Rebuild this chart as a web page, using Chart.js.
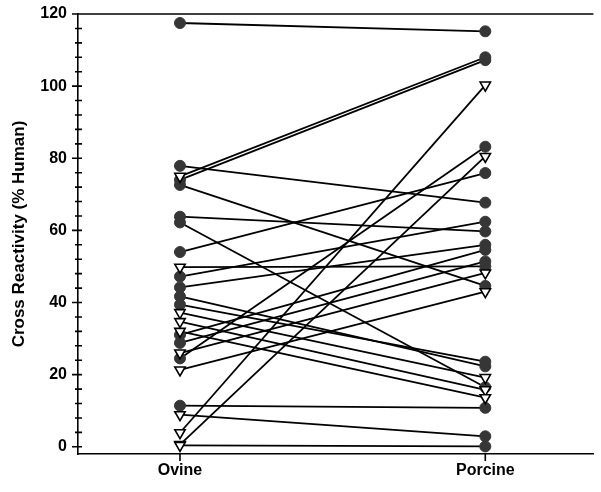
<!DOCTYPE html>
<html>
<head>
<meta charset="utf-8">
<script src="https://cdn.jsdelivr.net/npm/chart.js@4.4.1/dist/chart.umd.min.js"></script>
<style>
  html, body { margin: 0; padding: 0; background: #fff; }
</style>
</head>
<body>
<canvas id="chart" width="601" height="492"></canvas>
<script>
// paired values, one entry per sample
const categories = ['Ovine', 'Porcine'];
const ovine = [117.5, 77.9, 75.0, 74.0, 72.6, 63.8, 62.2, 54.0, 49.8, 47.2, 44.2, 41.7, 39.4,
    37.2, 34.7, 32.0, 31.0, 28.8, 26.0, 24.5, 21.3, 11.4, 8.9, 3.9, 0.6, 0.4];
const porcine = [115.2, 67.7, 108.0, 107.2, 44.6, 59.7, 16.5, 75.9, 50.0, 62.4, 56.0, 22.3, 23.6,
    19.2, 15.8, 13.6, 54.6, 51.4, 48.2, 83.2, 43.0, 10.8, 2.9, 100.3, 80.5, 0.1];
// c = filled circle, t = open triangle
const ovineMarker = ['c', 'c', 't', 'c', 'c', 'c', 'c', 'c', 't', 'c', 'c', 'c', 'c',
    't', 't', 't', 'c', 'c', 't', 'c', 't', 'c', 't', 't', 't', 't'];
const porcineMarker = ['c', 'c', 'c', 'c', 'c', 'c', 'c', 'c', 'c', 'c', 'c', 'c', 'c',
    't', 't', 't', 'c', 'c', 't', 'c', 't', 'c', 'c', 't', 't', 'c'];
const yTicks = [0, 20, 40, 60, 80, 100, 120];
const minorStep = 4;

const FONT = '"Liberation Sans", Arial, sans-serif';

const lineSets = ovine.map((v, i) => ({
    type: 'line',
    data: [{ x: 1, y: v }, { x: 2, y: porcine[i] }],
    borderColor: '#000',
    borderWidth: 1.8,
    pointRadius: 0,
    order: 2,
}));

const markerPoints = (kind) => {
    const pts = [];
    ovine.forEach((v, i) => { if (ovineMarker[i] === kind) pts.push({ x: 1, y: v }); });
    porcine.forEach((v, i) => { if (porcineMarker[i] === kind) pts.push({ x: 2, y: v }); });
    return pts;
};

const axisMarks = {
    id: 'axisMarks',
    beforeDatasetsDraw(chart) {
        const { ctx, chartArea, scales: { x, y } } = chart;
        ctx.save();
        ctx.strokeStyle = '#000';
        ctx.lineWidth = 1.6;
        ctx.beginPath();
        const top = y.getPixelForValue(yTicks[yTicks.length - 1]);
        ctx.moveTo(chartArea.left, top);
        ctx.lineTo(chartArea.right, top);
        for (let v = 0; v <= 120; v += minorStep) {
            const py = y.getPixelForValue(v);
            const major = yTicks.includes(v);
            ctx.moveTo(chartArea.left - (major ? 6 : 3), py);
            ctx.lineTo(chartArea.left + 4, py);
        }
        categories.forEach((c, i) => {
            const px = x.getPixelForValue(i + 1);
            ctx.moveTo(px, chartArea.bottom);
            ctx.lineTo(px, chartArea.bottom + 7);
        });
        ctx.stroke();
        ctx.restore();
    }
};

new Chart(document.getElementById('chart'), {
    type: 'scatter',
    data: {
        datasets: [
            {
                data: markerPoints('t'),
                pointStyle: 'triangle',
                rotation: 180,
                pointRadius: 6,
                backgroundColor: '#fff',
                borderColor: '#000',
                borderWidth: 1.6,
                order: 0,
            },
            {
                data: markerPoints('c'),
                pointStyle: 'circle',
                pointRadius: 5.5,
                backgroundColor: '#363636',
                borderColor: '#363636',
                borderWidth: 1,
                order: 1,
            },
            ...lineSets,
        ],
    },
    options: {
        responsive: false,
        animation: false,
        layout: { padding: { top: 14, right: 3, left: 0, bottom: 0 } },
        plugins: {
            legend: { display: false },
            tooltip: { enabled: false },
        },
        scales: {
            x: {
                type: 'linear',
                min: 0.666,
                max: 2.354,
                afterBuildTicks: (scale) => { scale.ticks = categories.map((c, i) => ({ value: i + 1 })); },
                afterFit: (scale) => { scale.height = 38; scale.paddingLeft = 0; scale.paddingRight = 0; },
                grid: { display: true, drawOnChartArea: false, drawTicks: false },
                border: { display: true, color: '#000', width: 1.6 },
                ticks: {
                    color: '#000',
                    padding: 7,
                    maxRotation: 0,
                    font: { family: FONT, size: 16, weight: 'bold' },
                    callback: (v) => categories[v - 1],
                },
            },
            y: {
                min: -2,
                max: 120,
                afterBuildTicks: (scale) => { scale.ticks = yTicks.map(v => ({ value: v })); },
                afterFit: (scale) => { scale.width = 78; scale.paddingTop = 0; scale.paddingBottom = 0; },
                grid: { display: true, drawOnChartArea: false, drawTicks: false },
                border: { display: true, color: '#000', width: 1.6 },
                ticks: {
                    color: '#000',
                    padding: 11,
                    font: { family: FONT, size: 16, weight: 'bold' },
                },
                title: {
                    display: true,
                    text: 'Cross Reactivity (% Human)',
                    color: '#000',
                    padding: { top: 9, bottom: 0 },
                    font: { family: FONT, size: 17, weight: 'bold' },
                },
            },
        },
    },
    plugins: [axisMarks],
});
</script>
</body>
</html>
